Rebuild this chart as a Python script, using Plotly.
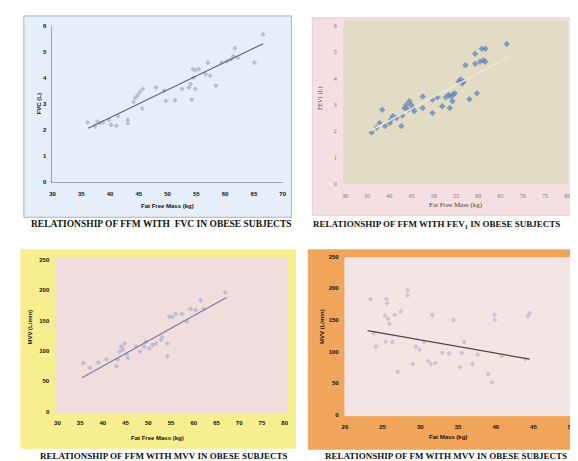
import plotly.graph_objects as go

W, H = 578, 461

# ---------------- data ----------------
# Panel 1: FFM vs FVC
fvc_ffm = [36.1, 37.4, 37.8, 38.2, 38.8, 39.8, 40.2, 41.1, 41.4, 43.1, 43.1, 44.1, 44.4, 44.8, 45.2, 45.7,
           45.6, 48.0, 49.4, 49.7, 51.3, 52.5, 53.7, 54.0, 54.2, 54.4, 54.8, 54.5, 54.8, 55.4, 56.6, 57.0,
           57.4, 58.4, 59.4, 60.3, 61.0, 61.4, 61.7, 62.2, 65.1, 66.6]
fvc_val = [2.28, 2.13, 2.31, 2.25, 2.28, 2.38, 2.19, 2.15, 2.53, 2.38, 2.25, 3.07, 3.23, 3.32, 3.45, 3.57,
           2.82, 3.63, 3.51, 3.11, 3.13, 3.57, 3.63, 3.76, 3.16, 4.33, 4.29, 4.01, 3.57, 4.33, 4.14, 4.58,
           4.08, 3.70, 4.58, 4.64, 4.71, 4.83, 5.14, 4.77, 4.58, 5.67]
fvc_trend_x = [36.2, 66.6]
fvc_trend_y = [2.06, 5.31]

# Panel 2: FFM vs FEV1
fev_ffm = [36.0, 37.1, 37.8, 38.4, 39.0, 40.1, 40.4, 40.8, 41.6, 42.7, 42.9, 43.4, 43.8, 44.2, 44.5, 44.9,
           45.3, 45.6, 47.5, 47.5, 49.7, 49.7, 50.8, 51.9, 52.7, 53.3, 53.8, 54.2, 53.6, 54.3, 54.7, 55.6,
           56.0, 56.4, 56.7, 57.1, 58.0, 59.3, 59.7, 59.3, 60.4, 60.8, 61.2, 61.6, 61.6, 66.4]
fev_val = [1.96, 2.13, 2.31, 2.81, 2.19, 2.31, 2.44, 2.56, 2.50, 2.19, 2.59, 2.88, 3.00, 2.81, 3.13, 3.00,
           2.88, 2.75, 3.31, 2.88, 3.19, 2.69, 3.29, 2.94, 3.29, 3.38, 3.31, 3.13, 2.88, 3.38, 3.44, 3.88,
           3.96, 3.81, 3.88, 4.50, 3.21, 4.56, 3.44, 4.94, 4.63, 5.13, 4.69, 4.63, 5.13, 5.31]
fev_trend_x = [35.6, 66.7]
fev_trend_y = [2.00, 4.81]

# Panel 3: FFM vs MVV
mvv_ffm = [35.7, 37.2, 39.0, 40.8, 43.0, 43.3, 43.7, 44.1, 44.4, 44.8, 45.2, 45.5, 47.3, 48.2, 49.1, 49.5,
           50.2, 50.9, 51.7, 52.8, 53.1, 54.2, 54.6, 54.2, 55.3, 56.0, 57.4, 58.5, 59.3, 60.4, 61.5, 62.2, 66.9]
mvv_val = [80, 72, 81, 86, 75, 86, 99, 107, 102, 112, 94, 88, 107, 99, 107, 115,
           104, 110, 112, 118, 123, 112, 156, 91, 156, 161, 161, 148, 169, 167, 183, 169, 196]
mvv_trend_x = [35.4, 67.2]
mvv_trend_y = [56, 188]

# Panel 4: FM vs MVV
fm_val = [23.4, 23.8, 24.1, 25.5, 25.6, 25.3, 25.7, 25.9, 25.4, 26.3, 26.6, 27.4, 27.0, 28.3, 28.3, 29.0,
          29.4, 29.9, 30.5, 31.0, 31.6, 31.4, 32.0, 32.9, 33.8, 34.4, 35.3, 35.5, 35.8, 36.9, 37.6, 39.0,
          39.5, 39.8, 39.9, 44.3, 44.5, 43.9, 40.8]
fm_mvv = [183, 129, 108, 183, 176, 157, 152, 144, 116, 115, 158, 163, 68, 197, 189, 80,
          108, 103, 115, 85, 158, 80, 82, 98, 97, 150, 75, 98, 115, 80, 95, 64,
          51, 158, 150, 156, 161, 88, 93]
fm_trend_x = [23.0, 44.5]
fm_trend_y = [133, 88]

ticks_6 = [0, 1, 2, 3, 4, 5, 6]
ticks_250 = [0, 50, 100, 150, 200, 250]
ticks_30_70 = [30, 35, 40, 45, 50, 55, 60, 65, 70]
ticks_30_80 = [30, 35, 40, 45, 50, 55, 60, 65, 70, 75, 80]
ticks_20_50 = [20, 25, 30, 35, 40, 45, 50]

captions = [
    "RELATIONSHIP OF FFM WITH  FVC IN OBESE SUBJECTS",
    "RELATIONSHIP OF FFM WITH FEV<sub>1</sub> IN OBESE SUBJECTS",
    "RELATIONSHIP OF FFM WITH MVV IN OBESE SUBJECTS",
    "RELATIONSHIP OF FM WITH MVV IN OBESE SUBJECTS",
]

# ---------------- helpers ----------------
def px(x):
    return x / W

def py(y):
    return 1 - y / H

def rect(x0, y0, x1, y1, fill, line=None):
    return dict(type="rect", xref="paper", yref="paper", layer="below",
                x0=px(x0), x1=px(x1), y0=py(y1), y1=py(y0), fillcolor=fill,
                line=dict(color=line or fill, width=1))

def text(x, y, s, size, color="#111", bold=True, angle=0, family="Liberation Sans"):
    return dict(x=px(x), y=py(y), xref="paper", yref="paper", text=s, showarrow=False,
                textangle=angle, xanchor="center", yanchor="middle",
                font=dict(size=size, color=color, family=family, weight="bold" if bold else "normal"))

fig = go.Figure()

# Panel 1
fig.add_trace(go.Scatter(x=fvc_ffm, y=fvc_val, mode="markers", xaxis="x", yaxis="y",
                         marker=dict(symbol="diamond", size=4, color="#b6c1d0")))
fig.add_trace(go.Scatter(x=fvc_trend_x, y=fvc_trend_y, mode="lines", xaxis="x", yaxis="y",
                         line=dict(color="#5d6672", width=1.2)))
# Panel 2
fig.add_trace(go.Scatter(x=fev_ffm, y=fev_val, mode="markers", xaxis="x2", yaxis="y2",
                         marker=dict(symbol="diamond", size=5, color="#6186bb", opacity=0.75)))
fig.add_trace(go.Scatter(x=fev_trend_x, y=fev_trend_y, mode="lines", xaxis="x2", yaxis="y2",
                         line=dict(color="#efe9d3", width=1.5)))
# Panel 3
fig.add_trace(go.Scatter(x=mvv_ffm, y=mvv_val, mode="markers", xaxis="x3", yaxis="y3",
                         marker=dict(symbol="diamond", size=4, color="#bcbfd2")))
fig.add_trace(go.Scatter(x=mvv_trend_x, y=mvv_trend_y, mode="lines", xaxis="x3", yaxis="y3",
                         line=dict(color="#7d7c9c", width=1.2)))
# Panel 4
fig.add_trace(go.Scatter(x=fm_val, y=fm_mvv, mode="markers", xaxis="x4", yaxis="y4",
                         marker=dict(symbol="diamond", size=4, color="#cdc4d0")))
fig.add_trace(go.Scatter(x=fm_trend_x, y=fm_trend_y, mode="lines", xaxis="x4", yaxis="y4",
                         line=dict(color="#4d4450", width=1.2)))

bold_tick = dict(size=6, color="#111", family="Liberation Sans", weight="bold")
light_tick = dict(size=6, color="#777", family="Liberation Serif")

def xa(domain, rng, tv, anchor, font, ticklen, line=False):
    return dict(domain=[px(domain[0]), px(domain[1])], range=rng, tickvals=tv, anchor=anchor,
                showgrid=False, zeroline=False, ticks="outside", ticklen=ticklen,
                tickcolor="rgba(0,0,0,0)", tickfont=font, showline=line, linecolor="#9aa4ae",
                linewidth=1, fixedrange=True)

def ya(domain, rng, tv, anchor, font, ticklen, line=False):
    return dict(domain=[py(domain[1]), py(domain[0])], range=rng, tickvals=tv, anchor=anchor,
                showgrid=False, zeroline=False, ticks="outside", ticklen=ticklen,
                tickcolor="rgba(0,0,0,0)", tickfont=font, showline=line, linecolor="#9aa4ae",
                linewidth=1, fixedrange=True)

shapes = [
    rect(13, 5, 284, 209, "#e6eff9", "#aab3bc"),
    rect(305, 7, 572, 207, "#f6dfe2", "#e2cfd2"),
    rect(337, 10, 563, 175, "#e3dcc4"),
    rect(10, 242, 288, 443, "#f7ef8f"),
    rect(45, 250, 280, 407, "#f1dddd"),
    rect(301, 242, 573, 444, "#f0a55b"),
    rect(338, 250, 567, 410, "#f4e5e5"),
]

annotations = [
    # panel 1
    text(28, 94, "FVC (L)", 6, angle=-90),
    text(158, 198, "Fat Free Mass (kg)", 6),
    text(152, 216, captions[0], 9.5, family="Liberation Serif"),
    # panel 2
    text(314, 88, "FEV1 (L)", 6, color="#333", bold=False, angle=-90, family="Liberation Serif"),
    text(450, 197, "Fat Free Mass (kg)", 7, color="#444", bold=False, family="Liberation Serif"),
    text(431, 216, captions[1], 9, family="Liberation Serif"),
    # panel 3
    text(19, 320, "MVV (L/min)", 6, angle=-90),
    text(148, 433, "Fat Free Mass (kg)", 6),
    text(154, 451, captions[2], 9, family="Liberation Serif"),
    # panel 4
    text(315, 320, "MVV (L/min)", 6, angle=-90),
    text(442, 432, "Fat Mass (kg)", 6),
    text(440, 451, captions[3], 9, family="Liberation Serif"),
]

fig.update_layout(
    width=W, height=H, margin=dict(l=0, r=0, t=0, b=0),
    paper_bgcolor="white", plot_bgcolor="rgba(0,0,0,0)", showlegend=False,
    xaxis=xa((42, 275), [30, 70], ticks_30_70, "y", bold_tick, 6, line=True),
    yaxis=ya((15, 173), [0, 6], ticks_6, "x", bold_tick, 4, line=True),
    xaxis2=xa((338, 563), [30, 80], ticks_30_80, "y2", light_tick, 6),
    yaxis2=ya((15, 175), [0, 6], ticks_6, "x2", light_tick, 6),
    xaxis3=xa((47, 277), [30, 80], ticks_30_80, "y3", bold_tick, 5),
    yaxis3=ya((252, 406), [0, 250], ticks_250, "x3", bold_tick, 6),
    xaxis4=xa((338, 567), [20, 50], ticks_20_50, "y4", bold_tick, 6),
    yaxis4=ya((249, 409), [0, 250], ticks_250, "x4", bold_tick, 4),
    shapes=shapes, annotations=annotations,
)

fig.write_html("out.html")
